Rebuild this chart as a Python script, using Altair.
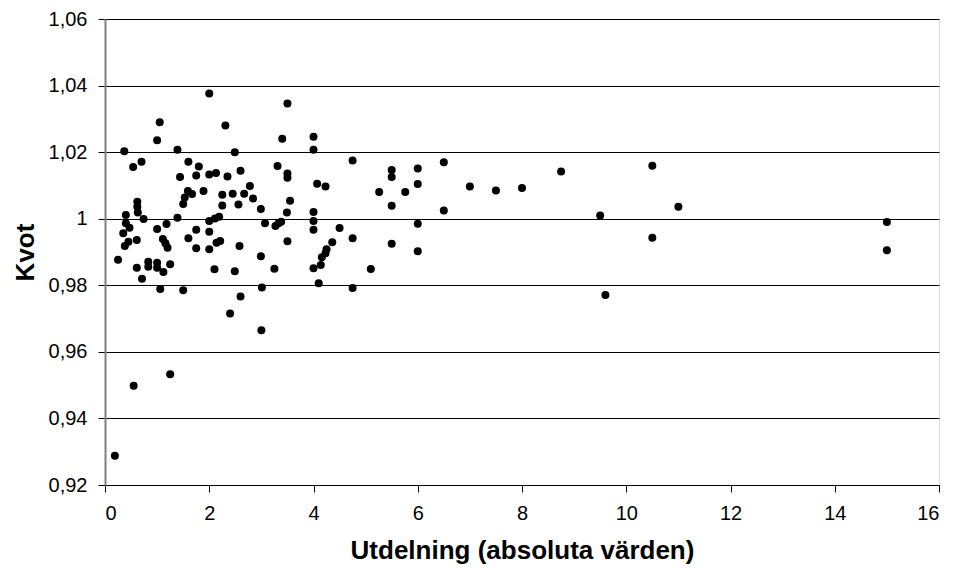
import altair as alt
import pandas as pd

utdelning = [
    2.0, 1.05, 2.31, 1.0, 0.37, 1.39, 0.70, 0.54, 1.60, 1.80,
    1.44, 1.75, 2.0, 2.13, 2.35, 1.59, 1.67, 1.53, 1.89, 2.25,
    0.62, 0.62, 1.50, 2.25, 0.40, 0.63, 0.74, 1.39, 2.0, 2.11,
    2.19, 0.40, 0.47, 0.35, 1.18, 1.0, 1.75, 2.0, 1.60, 1.11,
    0.45, 0.61, 1.16, 0.38, 1.20, 1.75, 2.0, 2.14, 2.21, 0.25,
    0.61, 0.83, 0.83, 1.0, 1.0, 1.12, 1.25, 0.71, 2.10, 1.06,
    1.50,
    3.50, 3.40, 4.0, 4.0, 2.49, 3.31, 3.50, 3.50, 2.60, 4.07,
    4.23, 2.78, 2.45, 2.67, 2.84, 3.55, 2.56, 2.99, 3.49, 4.0,
    4.0, 4.0, 4.50, 3.07, 3.27, 3.33, 3.38, 2.58, 3.50, 2.99,
    4.36, 4.25, 4.23, 4.16, 4.0, 4.14, 2.49, 3.25, 4.10, 3.01,
    2.60, 2.40, 3.0,
    0.19, 0.55, 1.25,
    4.75, 5.50, 5.50, 6.0, 6.0, 6.50, 5.26, 5.76, 5.50, 6.50,
    7.0, 7.5, 8.0, 4.75, 6.0, 5.50, 6.0, 5.10, 4.75,
    8.75, 10.5, 11.0, 9.5, 10.5, 9.6, 15.0, 15.0,
]
kvot = [
    1.0376, 1.0290, 1.0280, 1.0236, 1.0203, 1.0207, 1.0171, 1.0155, 1.0171, 1.0157,
    1.0125, 1.0130, 1.0133, 1.0137, 1.0127, 1.0083, 1.0074, 1.0064, 1.0083, 1.0072,
    1.0051, 1.0036, 1.0044, 1.0040, 1.0011, 1.0019, 0.9999, 1.0003, 0.9993, 1.0001,
    1.0006, 0.9986, 0.9973, 0.9956, 0.9984, 0.9969, 0.9967, 0.9961, 0.9941, 0.9939,
    0.9931, 0.9936, 0.9926, 0.9918, 0.9913, 0.9911, 0.9908, 0.9928, 0.9933, 0.9877,
    0.9853, 0.9871, 0.9856, 0.9868, 0.9853, 0.9840, 0.9863, 0.9820, 0.9848, 0.9789,
    0.9785,
    1.0346, 1.0240, 1.0246, 1.0207, 1.0200, 1.0158, 1.0136, 1.0123, 1.0144, 1.0105,
    1.0097, 1.0098, 1.0075, 1.0075, 1.0061, 1.0054, 1.0043, 1.0029, 1.0019, 1.0020,
    0.9993, 0.9967, 0.9972, 0.9986, 0.9978, 0.9986, 0.9991, 0.9918, 0.9932, 0.9887,
    0.9929, 0.9908, 0.9896, 0.9884, 0.9851, 0.9861, 0.9842, 0.9850, 0.9806, 0.9793,
    0.9766, 0.9715, 0.9665,
    0.9288, 0.9498, 0.9533,
    1.0175, 1.0146, 1.0125, 1.0151, 1.0104, 1.0170, 1.0080, 1.0080, 1.0039, 1.0025,
    1.0097, 1.0085, 1.0092, 0.9941, 0.9985, 0.9925, 0.9902, 0.9849, 0.9792,
    1.0142, 1.0159, 1.0036, 1.0010, 0.9943, 0.9771, 0.9990, 0.9905,
]

x_ticks = [0, 2, 4, 6, 8, 10, 12, 14, 16]
y_ticks = [0.92, 0.94, 0.96, 0.98, 1.0, 1.02, 1.04, 1.06]

df = pd.DataFrame({"Utdelning": utdelning, "Kvot": kvot})

FONT = "Liberation Sans"

chart = (
    alt.Chart(df)
    .mark_circle(color="black", opacity=1, size=64)
    .encode(
        x=alt.X(
            "Utdelning:Q",
            scale=alt.Scale(domain=[0, 16], nice=False, zero=False),
            axis=alt.Axis(
                title="Utdelning (absoluta värden)",
                values=x_ticks,
                grid=False,
                domainColor="black",
                domainWidth=1,
                tickColor="black",
                tickSize=7,
                labelFontSize=20,
                labelPadding=11,
                labelColor="black",
                labelFont=FONT,
                titleFont=FONT,
                titleFontSize=26,
                titleFontWeight="bold",
                titleColor="black",
                titlePadding=14,
            ),
        ),
        y=alt.Y(
            "Kvot:Q",
            scale=alt.Scale(domain=[0.92, 1.06], nice=False, zero=False),
            axis=alt.Axis(
                title="Kvot",
                values=y_ticks,
                grid=True,
                gridColor="black",
                gridWidth=1,
                domainColor="#808080",
                domainWidth=2,
                tickColor="black",
                tickSize=7,
                labelFontSize=20,
                labelPadding=11,
                labelColor="black",
                labelFont=FONT,
                labelExpr="datum.value == 1 ? '1' : replace(format(datum.value, '.2f'), '.', ',')",
                titleFont=FONT,
                titleFontSize=26,
                titleFontWeight="bold",
                titleColor="black",
                titlePadding=10,
            ),
        ),
    )
    .properties(
        width=834,
        height=466,
        autosize=alt.AutoSizeParams(type="none"),
        padding={"left": 105, "top": 19, "right": 18, "bottom": 87},
    )
    .configure_view(stroke=None)
    .configure(background="white")
)

chart.save("out.html", embed_options={"renderer": "svg", "actions": False})
